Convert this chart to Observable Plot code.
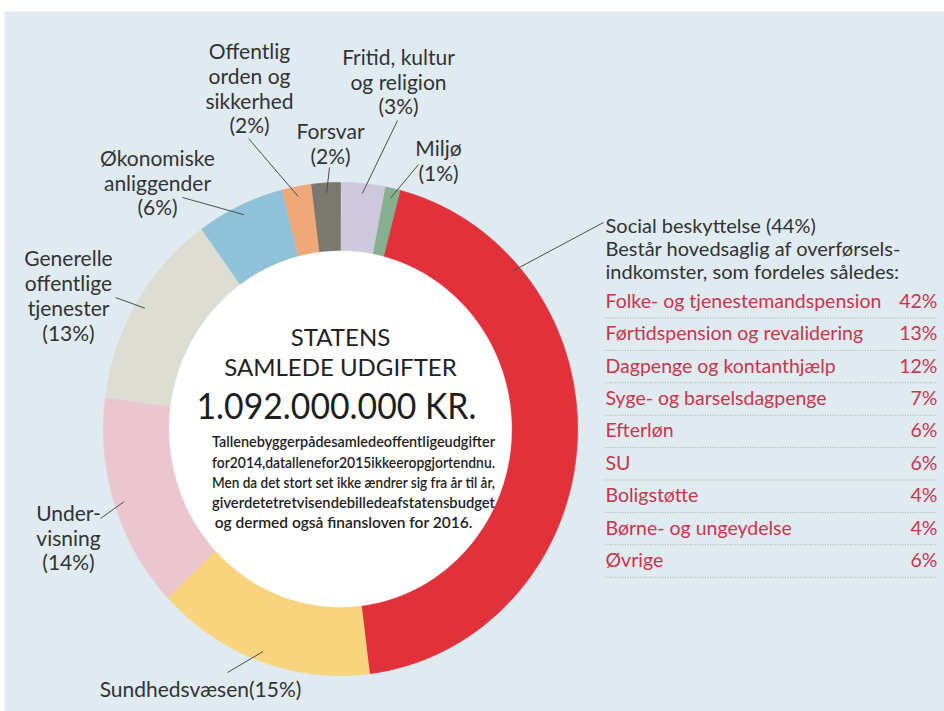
<!DOCTYPE html>
<html>
<head>
<meta charset="utf-8">
<script src="https://cdn.jsdelivr.net/npm/d3@7"></script>
<script src="https://cdn.jsdelivr.net/npm/@observablehq/plot@0.6"></script>
<style>
  html, body { margin: 0; padding: 0; background: #ffffff; }
  #chart svg { display: block; }
</style>
</head>
<body>
<div id="chart"></div>
<script>
// ---------------- DATA ----------------
const categories = [
  "Social beskyttelse",
  "Sundhedsvæsen",
  "Undervisning",
  "Generelle offentlige tjenester",
  "Økonomiske anliggender",
  "Offentlig orden og sikkerhed",
  "Forsvar",
  "Fritid, kultur og religion",
  "Miljø"
];
const shares = [44, 15, 14, 13, 6, 2, 2, 3, 1];
const categoryLabels = [
  "Social beskyttelse (44%)\nBestår hovedsaglig af overførsels-\nindkomster, som fordeles således:",
  "Sundhedsvæsen(15%)",
  "Under-\nvisning\n(14%)",
  "Generelle\noffentlige\ntjenester\n(13%)",
  "Økonomiske\nanliggender\n(6%)",
  "Offentlig\norden og\nsikkerhed\n(2%)",
  "Forsvar\n(2%)",
  "Fritid, kultur\nog religion\n(3%)",
  "Miljø\n(1%)"
];
const subCategories = [
  "Folke- og tjenestemandspension",
  "Førtidspension og revalidering",
  "Dagpenge og kontanthjælp",
  "Syge- og barselsdagpenge",
  "Efterløn",
  "SU",
  "Boligstøtte",
  "Børne- og ungeydelse",
  "Øvrige"
];
const subShares = [42, 13, 12, 7, 6, 6, 4, 4, 6];
const centerTitle = ["STATENS", "SAMLEDE UDGIFTER"];
const totalText = "1.092.000.000 KR.";
const noteLines = [
  "Tallenebyggerpådesamledeoffentligeudgifter",
  "for2014,datallenefor2015ikkeeropgjortendnu.",
  "Men da det stort set ikke ændrer sig fra år til år,",
  "giverdetetretvisendebilledeafstatensbudget",
  "og dermed også finansloven for 2016."
];

// ---------------- STYLE / LAYOUT ----------------
const palette = ["#e1323b", "#f8d47f", "#ecc6cf", "#dddcd3", "#8fc1d8", "#f0a878", "#7b7870", "#cfc8dc", "#86b08d"];
const W = 944, H = 711;
const cx = 340, cy = 428.5, rx = 237, ry = 246.5, innerR = 0.72;
const startDeg = 14.5;
// label block centres and leader-line outer ends (pixels)
const labelLayout = [
  {x: 605, y: 248, anchor: "start", lx: 603, ly: 222, angle: 48.6, r: 0.97},
  {x: 200, y: 688, anchor: "middle", lx: 227, ly: 672},
  {x: 68, y: 537, anchor: "middle", lx: 100, ly: 518},
  {x: 68, y: 295, anchor: "middle", lx: 115, ly: 297},
  {x: 157, y: 182, anchor: "middle", lx: 182, ly: 197},
  {x: 249, y: 87.5, anchor: "middle", lx: 248, ly: 138},
  {x: 330, y: 143, anchor: "middle", lx: 329, ly: 167},
  {x: 398, y: 81, anchor: "middle", lx: 397, ly: 120},
  {x: 438, y: 160, anchor: "middle", lx: 418, ly: 164}
];

const rad = Math.PI / 180;
const slices = categories.map((name, i) => ({name, value: shares[i], color: palette[i], i}));
const arcs = d3.pie().sort(null).value(d => d.value)
  .startAngle(startDeg * rad).endAngle(startDeg * rad + 2 * Math.PI)(slices);

const pt = (a, r) => ({x: cx + rx * r * Math.sin(a), y: cy - ry * r * Math.cos(a)});

const slicePts = arcs.flatMap(a => {
  const n = Math.max(2, Math.ceil((a.endAngle - a.startAngle) / (0.5 * rad)));
  const out = [];
  for (let k = 0; k <= n; k++) {
    const t = a.startAngle + (a.endAngle - a.startAngle) * k / n;
    out.push({...pt(t, 1), name: a.data.name, color: a.data.color});
  }
  for (let k = n; k >= 0; k--) {
    const t = a.startAngle + (a.endAngle - a.startAngle) * k / n;
    out.push({...pt(t, innerR), name: a.data.name, color: a.data.color});
  }
  return out;
});

const holePts = d3.range(0, 361, 1).map(d => ({...pt(d * rad, innerR + 0.002)}));

const leaders = arcs.map((a, i) => {
  const L = labelLayout[i];
  const ang = L.angle != null ? L.angle * rad : (a.startAngle + a.endAngle) / 2;
  const p = pt(ang, L.r ?? 0.96);
  return {x1: L.lx, y1: L.ly, x2: p.x, y2: p.y};
});

const labels = categoryLabels.map((t, i) => ({text: t, ...labelLayout[i]}));

const rowY0 = 301, rowDY = 32.4, tableX1 = 605, tableX2 = 937;
const rows = subCategories.map((name, i) => ({name, value: subShares[i] + "%", y: rowY0 + i * rowDY}));

const textColor = "#333333";
const tableColor = "#c8364a";

const chart = Plot.plot({
  width: W,
  height: H,
  margin: 0,
  x: {domain: [0, W], range: [0, W], axis: null},
  y: {domain: [0, H], range: [0, H], axis: null},
  color: {type: "identity"},
  style: {background: "#ffffff", fontFamily: "Lato, 'Open Sans', sans-serif", color: textColor},
  marks: [
    Plot.frame({fill: "#e0eaf1", stroke: "none", insetTop: 11, insetLeft: 4}),
    Plot.line(slicePts, {x: "x", y: "y", z: "name", fill: "color", stroke: "color", strokeWidth: 0.8, curve: "linear"}),
    Plot.line(holePts, {x: "x", y: "y", fill: "#ffffff", stroke: "#ffffff", strokeWidth: 0.5}),
    Plot.link(leaders, {x1: "x1", y1: "y1", x2: "x2", y2: "y2", stroke: "#4d4d4d", strokeWidth: 1}),
    Plot.text(labels.filter(d => d.anchor === "middle"), {
      x: "x", y: "y", text: "text", textAnchor: "middle", fontSize: 21, lineHeight: 1.19, fill: textColor
    }),
    Plot.text(labels.filter(d => d.anchor === "start"), {
      x: "x", y: "y", text: "text", textAnchor: "start", fontSize: 20, lineHeight: 1.15, fill: textColor
    }),
    Plot.ruleY(rows, {y: d => d.y + 16.5, x1: tableX1, x2: tableX2, stroke: "#a9a9a9", strokeWidth: 1, strokeDasharray: "1,1.5"}),
    Plot.text(rows, {x: tableX1, y: "y", text: "name", textAnchor: "start", fontSize: 19.5, fill: tableColor}),
    Plot.text(rows, {x: tableX2, y: "y", text: "value", textAnchor: "end", fontSize: 19.5, fill: tableColor}),
    Plot.text(centerTitle, {x: cx, y: (d, i) => 338 + i * 29.5, text: d => d, textAnchor: "middle", fontSize: 24, fill: "#222222"}),
    Plot.text([totalText], {x: 336, y: 407, text: d => d, textAnchor: "middle", fontSize: 37, fill: "#1e1e1e"}),
    Plot.text(noteLines, {x: (d, i) => i < 4 ? 353 : 343, y: (d, i) => 442 + i * 20.2, text: d => d, textAnchor: "middle", fontSize: 15.5, fontWeight: 600, fill: "#1e1e1e"})
  ]
});

// justify the note block and condense the total like the original typesetting
chart.querySelectorAll("text").forEach(t => {
  const s = t.textContent;
  const k = noteLines.indexOf(s);
  if (k >= 0 && k < 4) {
    t.setAttribute("textLength", 283);
    t.setAttribute("lengthAdjust", "spacingAndGlyphs");
  }
  if (s === totalText) {
    t.setAttribute("textLength", 280);
    t.setAttribute("lengthAdjust", "spacingAndGlyphs");
  }
});

document.getElementById("chart").appendChild(chart);
</script>
</body>
</html>
